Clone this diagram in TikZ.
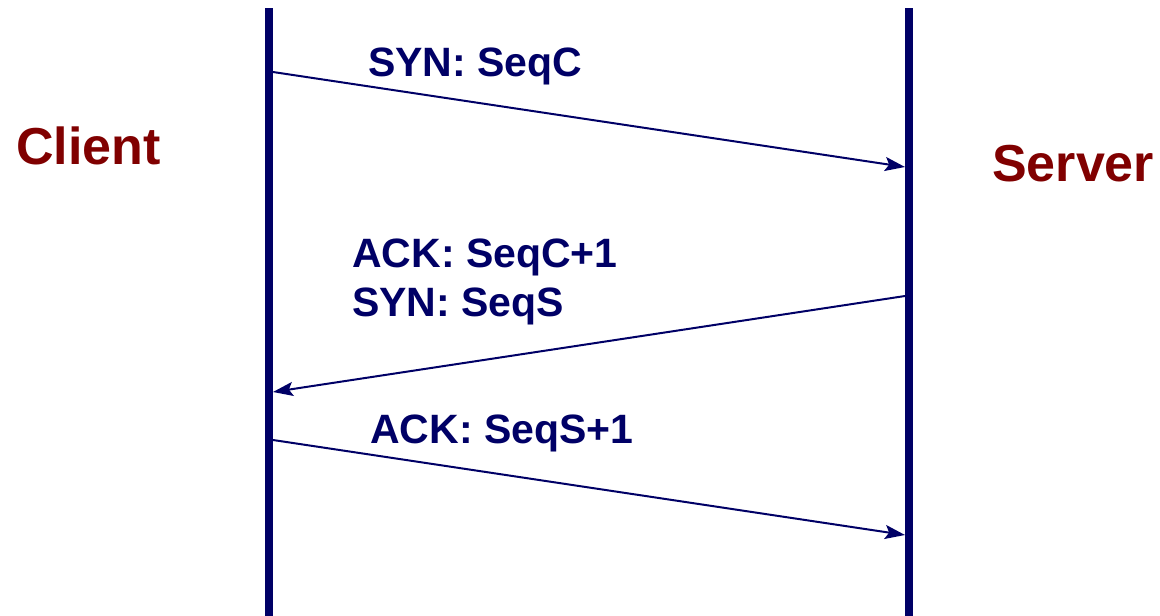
\documentclass[tikz,border=0pt]{standalone}
\usepackage{fontspec}
\setmainfont{Liberation Sans}
\usetikzlibrary{arrows.meta}
\definecolor{navy}{RGB}{0,0,102}
\definecolor{maroon}{RGB}{128,0,0}
\tikzset{
  lifeline/.style={draw=navy, line width=8pt},
  msg/.style={draw=navy, line width=2pt, -{Stealth[length=20pt,width=14pt,inset=4pt]}},
  msglabel/.style={anchor=base west, inner sep=0pt, text=navy, font=\fontsize{41}{49}\selectfont\bfseries},
  party/.style={anchor=base west, inner sep=0pt, text=maroon, font=\fontsize{52}{62}\selectfont\bfseries},
}
\begin{document}
\begin{tikzpicture}[x=1pt,y=-1pt]
\useasboundingbox (0,0) rectangle (1160,616);
\coordinate (ctop) at (269,8);
\coordinate (cbot) at (269,616);
\coordinate (stop) at (909,8);
\coordinate (sbot) at (909,616);
\draw[lifeline] (ctop) -- (cbot);
\draw[lifeline] (stop) -- (sbot);
\coordinate (a1) at (273,72);
\coordinate (b1) at (905,167);
\coordinate (a2) at (905,296);
\coordinate (b2) at (273,392);
\coordinate (a3) at (273,440);
\coordinate (b3) at (905,535);
\draw[msg] (a1) -- (b1);
\draw[msg] (a2) -- (b2);
\draw[msg] (a3) -- (b3);
\node[msglabel] (l1) at (368,76) {SYN: SeqC};
\node[msglabel] (l2) at (352,267) {ACK: SeqC+1};
\node[msglabel] (l3) at (352,316) {SYN: SeqS};
\node[msglabel] (l4) at (370,443) {ACK: SeqS+1};
\node[party] (client) at (16,164) {Client};
\node[party] (server) at (992,181) {Server};
\end{tikzpicture}
\end{document}
